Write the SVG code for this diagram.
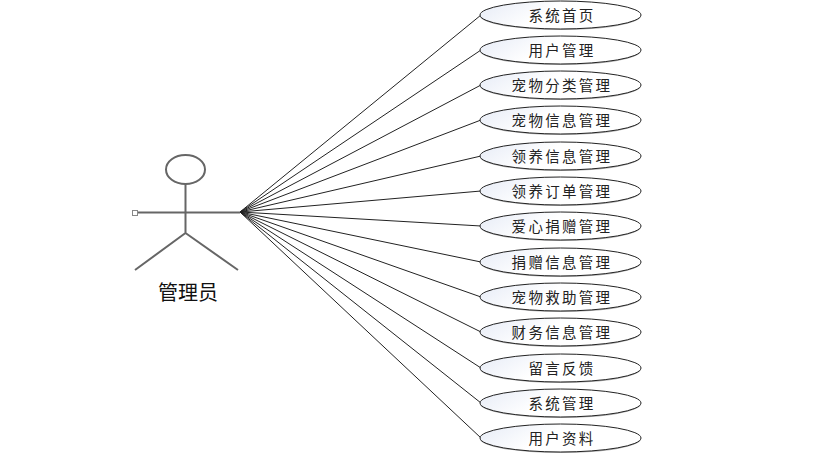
<svg xmlns="http://www.w3.org/2000/svg" width="819" height="456" viewBox="0 0 819 456">
<style>
.u{fill:url(#g);stroke:#222;stroke-width:1}
.s{fill:#b5b5b5;stroke:none}
.t{font-family:"Noto Sans CJK SC","Liberation Sans",sans-serif;font-size:14.5px;letter-spacing:2.3px;text-anchor:middle;fill:#222}
.c{stroke:#222;stroke-width:1;fill:none}
.a{stroke:#666;stroke-width:2;fill:none}
</style>
<defs>
<linearGradient id="g" x1="0" y1="0" x2="1" y2="0.3"><stop offset="0" stop-color="#e6ebf6"/><stop offset=".5" stop-color="#fff"/><stop offset="1" stop-color="#fff"/></linearGradient>
<ellipse id="sh" class="s" cx="560.500" rx="80.500" ry="14"/>
</defs>
<rect width="819" height="456" fill="#fff"/>
<g id="connectors">
<path class="c" d="M240 212L481 15M240 212L481 50M240 212L481 85M240 212L481 120M240 212L481 156M240 212L481 191M240 212L481 226M240 212L481 262M240 212L481 297M240 212L481 332M240 212L481 368M240 212L481 403M240 212L481 438"/>
</g>
<g id="actor">
<ellipse class="a" cx="185.500" cy="169.500" rx="19.500" ry="14.500" fill="#fff"/>
<path class="a" d="M185.500 184V233M137 212.500H240M185.500 233L135 270M185.500 233L238 270"/>
<rect x="132.500" y="210.500" width="5" height="5" fill="#fff" stroke="#888"/>
<text x="188" y="300" font-family="Noto Sans CJK SC,sans-serif" font-size="20" text-anchor="middle" fill="#111">管理员</text>
</g>
<g id="n1"><use href="#sh" y="16"/><ellipse class="u" cx="560.500" cy="15" rx="80.500" ry="14"/><text class="t" x="562" y="20.800">系统首页</text></g>
<g id="n2"><use href="#sh" y="51"/><ellipse class="u" cx="560.500" cy="50" rx="80.500" ry="14"/><text class="t" x="562" y="55.800">用户管理</text></g>
<g id="n3"><use href="#sh" y="86"/><ellipse class="u" cx="560.500" cy="85" rx="80.500" ry="14"/><text class="t" x="562" y="90.800">宠物分类管理</text></g>
<g id="n4"><use href="#sh" y="121"/><ellipse class="u" cx="560.500" cy="120" rx="80.500" ry="14"/><text class="t" x="562" y="125.800">宠物信息管理</text></g>
<g id="n5"><use href="#sh" y="157"/><ellipse class="u" cx="560.500" cy="156" rx="80.500" ry="14"/><text class="t" x="562" y="161.800">领养信息管理</text></g>
<g id="n6"><use href="#sh" y="192"/><ellipse class="u" cx="560.500" cy="191" rx="80.500" ry="14"/><text class="t" x="562" y="196.800">领养订单管理</text></g>
<g id="n7"><use href="#sh" y="227"/><ellipse class="u" cx="560.500" cy="226" rx="80.500" ry="14"/><text class="t" x="562" y="231.800">爱心捐赠管理</text></g>
<g id="n8"><use href="#sh" y="263"/><ellipse class="u" cx="560.500" cy="262" rx="80.500" ry="14"/><text class="t" x="562" y="267.800">捐赠信息管理</text></g>
<g id="n9"><use href="#sh" y="298"/><ellipse class="u" cx="560.500" cy="297" rx="80.500" ry="14"/><text class="t" x="562" y="302.800">宠物救助管理</text></g>
<g id="n10"><use href="#sh" y="333"/><ellipse class="u" cx="560.500" cy="332" rx="80.500" ry="14"/><text class="t" x="562" y="337.800">财务信息管理</text></g>
<g id="n11"><use href="#sh" y="369"/><ellipse class="u" cx="560.500" cy="368" rx="80.500" ry="14"/><text class="t" x="562" y="373.800">留言反馈</text></g>
<g id="n12"><use href="#sh" y="404"/><ellipse class="u" cx="560.500" cy="403" rx="80.500" ry="14"/><text class="t" x="562" y="408.800">系统管理</text></g>
<g id="n13"><use href="#sh" y="439"/><ellipse class="u" cx="560.500" cy="438" rx="80.500" ry="14"/><text class="t" x="562" y="443.800">用户资料</text></g>
</svg>
